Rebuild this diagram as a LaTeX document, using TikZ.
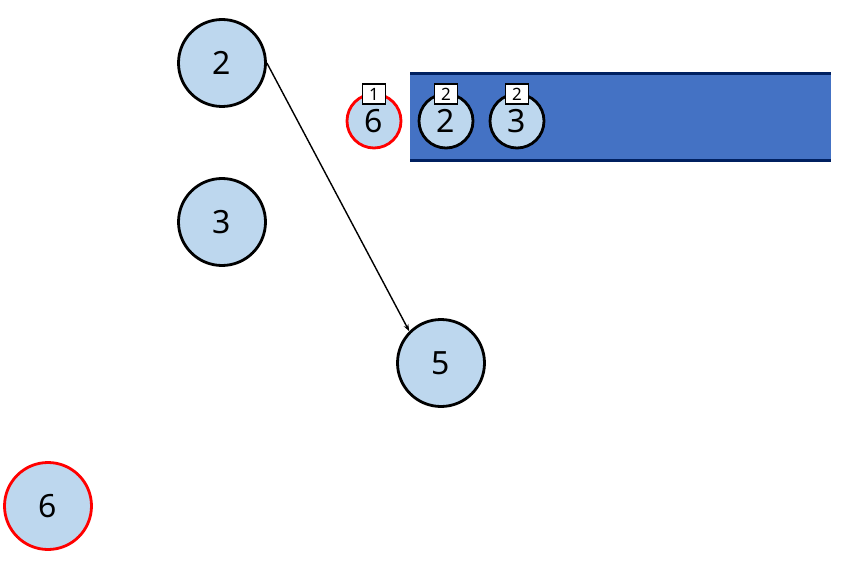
\documentclass[tikz,border=0pt]{standalone}
\usepackage{fontspec}
\setmainfont{Noto Sans}
\usetikzlibrary{arrows.meta}
\definecolor{nodefill}{HTML}{BDD7EE}
\definecolor{qfill}{HTML}{4472C4}
\definecolor{qline}{HTML}{002060}
\definecolor{redc}{HTML}{FF0000}
\tikzset{
  bignode/.style={circle,draw=black,line width=2.8pt,fill=nodefill,minimum size=87pt,inner sep=0pt,font=\fontsize{32}{32}\selectfont},
  smallnode/.style={circle,draw=black,line width=2.8pt,fill=nodefill,minimum size=54pt,inner sep=0pt,font=\fontsize{32}{32}\selectfont},
  redborder/.style={draw=redc},
  tagbox/.style={rectangle,draw=black,line width=1.3pt,fill=white,minimum width=23.5pt,minimum height=20pt,inner sep=0pt,font=\fontsize{17}{17}\selectfont},
  arrowline/.style={line width=1.4pt,-{Stealth[length=7pt,width=5pt]}}
}
\begin{document}
\begin{tikzpicture}[x=1pt,y=-1pt]
\useasboundingbox (0,0) rectangle (845,564);
% queue
\fill[qfill] (410,73.5) rectangle (831,161);
\draw[qline,line width=3pt] (410,73.5) -- (831,73.5);
\draw[qline,line width=3pt] (410,161) -- (831,161);
% tree nodes
\node[bignode] (n2) at (222,63) {2};
\node[bignode] (n3) at (222,222) {3};
\node[bignode] (n5) at (441,363) {5};
\node[bignode,redborder] (n6) at (48,506) {6};
\draw[arrowline] (n2.east) -- (n5.135);
% queue items
\node[smallnode,redborder] (q6) at (374,121) {6};
\node[smallnode] (q2) at (446,121) {2};
\node[smallnode] (q3) at (517,121) {3};
\node[tagbox] (t6) at (374,94) {1};
\node[tagbox] (t2) at (446,94) {2};
\node[tagbox] (t3) at (517,94) {2};
\end{tikzpicture}
\end{document}
